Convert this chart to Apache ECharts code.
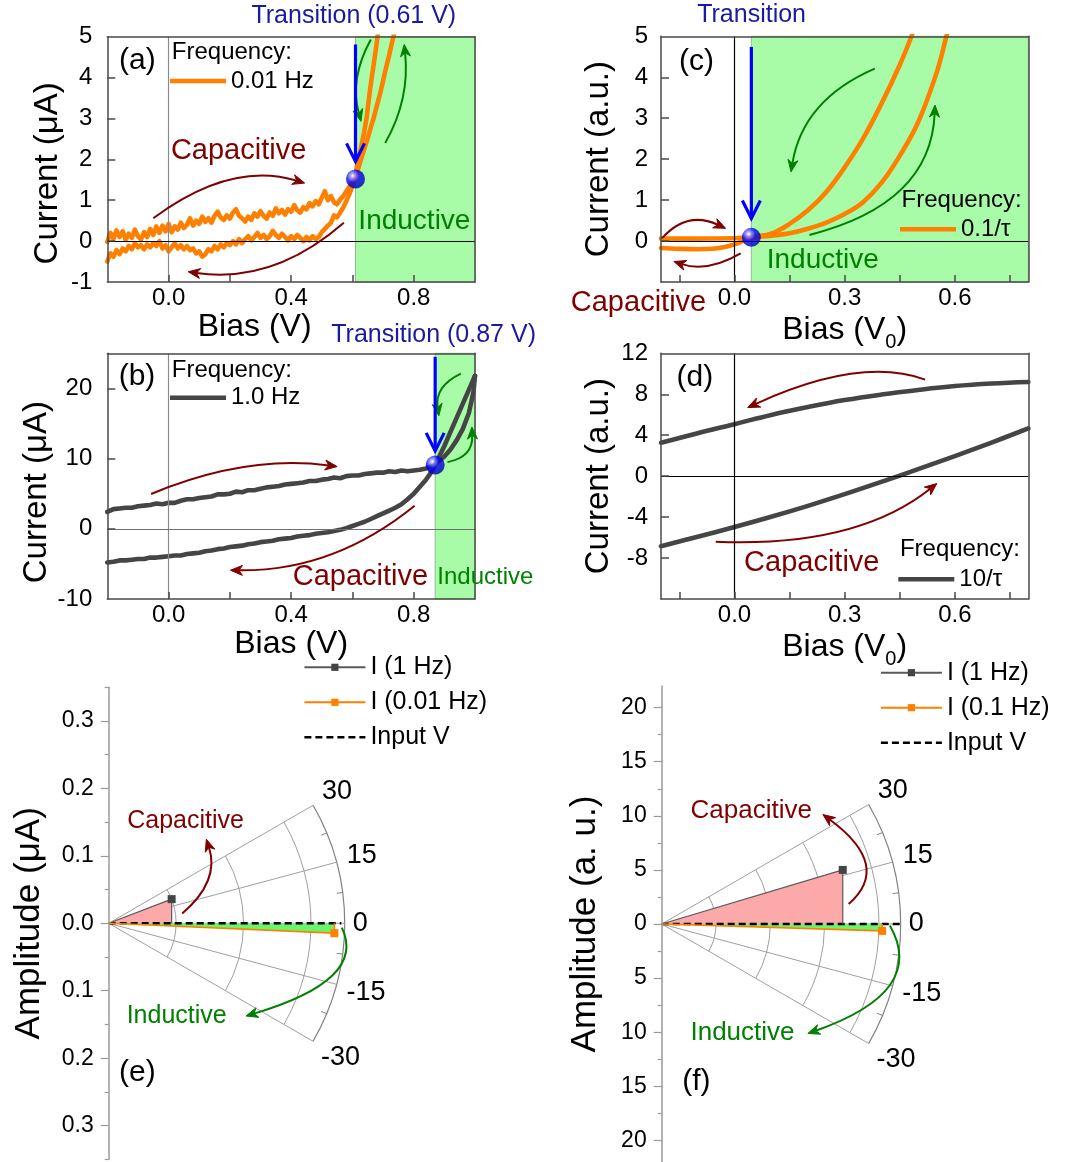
<!DOCTYPE html>
<html><head><meta charset="utf-8">
<script src="https://cdn.jsdelivr.net/npm/echarts@6/dist/echarts.min.js"></script>
<style>html,body{margin:0;padding:0;background:#fff}#c{width:1065px;height:1162px}</style>
</head><body><div id="c"></div>
<script>
// ---------------- data ----------------
// (a) 0.01 Hz measured loop: [bias V, current uA]
const aForward = [[-0.20,-0.02],[-0.19,0.20],[-0.18,0.06],[-0.17,0.26],[-0.16,0.10],[-0.15,0.24],[-0.14,0.03],[-0.13,0.18],[-0.12,0.08],[-0.11,0.28],[-0.10,0.12],[-0.09,0.04],[-0.08,0.22],[-0.07,0.10],[-0.06,0.30],[-0.05,0.15],[-0.04,0.36],[-0.03,0.20],[-0.02,0.38],[-0.01,0.24],[0.00,0.42],[0.01,0.22],[0.02,0.36],[0.03,0.28],[0.04,0.45],[0.05,0.32],[0.06,0.40],[0.07,0.56],[0.08,0.38],[0.09,0.50],[0.10,0.42],[0.11,0.60],[0.12,0.47],[0.13,0.56],[0.14,0.45],[0.15,0.62],[0.16,0.72],[0.17,0.58],[0.18,0.52],[0.19,0.63],[0.20,0.55],[0.21,0.70],[0.22,0.78],[0.23,0.62],[0.24,0.56],[0.25,0.48],[0.26,0.60],[0.27,0.52],[0.28,0.68],[0.29,0.60],[0.30,0.73],[0.31,0.62],[0.32,0.55],[0.33,0.70],[0.34,0.62],[0.35,0.80],[0.36,0.68],[0.37,0.76],[0.38,0.65],[0.39,0.78],[0.40,0.72],[0.41,0.88],[0.42,0.75],[0.43,0.70],[0.44,0.83],[0.45,0.78],[0.46,0.93],[0.47,0.85],[0.48,0.98],[0.49,0.90],[0.50,1.06],[0.51,1.22],[0.52,1.00],[0.53,1.10],[0.54,0.95],[0.55,0.90],[0.56,1.02],[0.57,1.10],[0.58,1.22],[0.59,1.33],[0.60,1.43],[0.61,1.55],[0.62,1.80],[0.63,2.05],[0.64,2.28],[0.65,2.52],[0.66,2.78],[0.67,3.03],[0.68,3.32],[0.69,3.60],[0.70,3.92],[0.71,4.25],[0.72,4.55],[0.73,4.88],[0.74,5.20],[0.75,5.50]];
const aReverse = [[0.69,5.40],[0.682,5.00],[0.675,4.62],[0.668,4.25],[0.663,4.00],[0.656,3.62],[0.650,3.25],[0.646,3.00],[0.638,2.66],[0.630,2.36],[0.624,2.15],[0.618,2.00],[0.613,1.76],[0.61,1.55],[0.60,1.35],[0.59,1.15],[0.58,0.98],[0.57,0.82],[0.56,0.70],[0.55,0.58],[0.54,0.63],[0.53,0.45],[0.52,0.38],[0.51,0.30],[0.50,0.22],[0.49,0.10],[0.48,0.05],[0.47,0.12],[0.46,0.02],[0.45,0.10],[0.44,0.00],[0.43,0.08],[0.42,0.15],[0.41,0.05],[0.40,0.12],[0.39,0.02],[0.38,0.10],[0.37,0.18],[0.36,0.08],[0.35,0.15],[0.34,0.25],[0.33,0.12],[0.32,0.05],[0.31,0.15],[0.30,0.08],[0.29,0.20],[0.28,0.10],[0.27,0.02],[0.26,0.12],[0.25,0.05],[0.24,-0.05],[0.23,0.05],[0.22,-0.08],[0.21,0.00],[0.20,-0.10],[0.19,-0.05],[0.18,-0.15],[0.17,-0.08],[0.16,-0.20],[0.15,-0.12],[0.14,-0.25],[0.13,-0.20],[0.12,-0.32],[0.11,-0.38],[0.10,-0.25],[0.09,-0.30],[0.08,-0.18],[0.07,-0.22],[0.06,-0.12],[0.05,-0.20],[0.04,-0.10],[0.03,-0.18],[0.02,-0.05],[0.01,-0.15],[0.00,-0.25],[-0.01,-0.10],[-0.02,-0.18],[-0.03,0.00],[-0.04,-0.12],[-0.05,-0.05],[-0.06,-0.15],[-0.07,-0.08],[-0.08,-0.20],[-0.09,-0.10],[-0.10,-0.15],[-0.11,-0.05],[-0.12,-0.20],[-0.13,-0.12],[-0.14,-0.25],[-0.15,-0.18],[-0.16,-0.32],[-0.17,-0.22],[-0.18,-0.38],[-0.19,-0.30],[-0.20,-0.50]];
const aTransition = [0.61, 1.52];

// (b) 1.0 Hz measured loop
const bForward = [[-0.20,2.4],[-0.18,2.8],[-0.16,2.9],[-0.14,3.0],[-0.12,3.0],[-0.10,3.2],[-0.08,3.3],[-0.06,3.4],[-0.04,3.6],[-0.02,3.5],[0.00,3.7],[0.02,3.7],[0.04,4.0],[0.06,4.2],[0.08,4.2],[0.10,4.4],[0.12,4.5],[0.14,4.6],[0.16,4.9],[0.18,4.9],[0.20,5.0],[0.22,5.3],[0.24,5.2],[0.26,5.5],[0.28,5.5],[0.30,5.7],[0.32,5.9],[0.34,6.0],[0.36,6.1],[0.38,6.3],[0.40,6.4],[0.42,6.5],[0.44,6.6],[0.46,6.8],[0.48,6.8],[0.50,7.0],[0.52,7.1],[0.54,7.3],[0.56,7.2],[0.58,7.5],[0.60,7.6],[0.62,7.6],[0.64,7.8],[0.66,7.9],[0.68,8.0],[0.70,8.0],[0.72,8.2],[0.74,8.1],[0.76,8.3],[0.78,8.2],[0.80,8.3],[0.82,8.4],[0.84,8.6],[0.86,8.9],[0.87,9.2],[0.88,9.6],[0.90,10.3],[0.92,11.3],[0.94,12.6],[0.96,14.2],[0.98,16.5],[0.995,19.5],[1.0,21.8]];
const bReverse = [[1.0,21.8],[0.98,19.8],[0.96,17.8],[0.94,15.8],[0.92,13.8],[0.90,11.8],[0.88,10.0],[0.87,9.2],[0.86,8.3],[0.85,7.6],[0.84,7.0],[0.83,6.5],[0.82,6.0],[0.80,5.0],[0.78,4.2],[0.76,3.5],[0.74,3.0],[0.72,2.6],[0.70,2.2],[0.68,1.8],[0.66,1.4],[0.64,1.0],[0.62,0.7],[0.60,0.4],[0.58,0.1],[0.56,-0.15],[0.54,-0.3],[0.52,-0.5],[0.50,-0.6],[0.48,-0.7],[0.46,-0.9],[0.44,-1.0],[0.42,-1.1],[0.40,-1.3],[0.38,-1.4],[0.36,-1.5],[0.34,-1.7],[0.32,-1.8],[0.30,-1.9],[0.28,-2.1],[0.26,-2.2],[0.24,-2.4],[0.22,-2.5],[0.20,-2.6],[0.18,-2.8],[0.16,-2.9],[0.14,-3.1],[0.12,-3.2],[0.10,-3.4],[0.08,-3.5],[0.06,-3.6],[0.04,-3.8],[0.02,-3.8],[0.00,-3.9],[-0.02,-4.0],[-0.04,-4.1],[-0.06,-4.1],[-0.08,-4.3],[-0.10,-4.3],[-0.12,-4.4],[-0.14,-4.5],[-0.16,-4.5],[-0.18,-4.7],[-0.20,-4.8]];
const bTransition = [0.87, 9.1];

// (c) simulated 0.1/tau loop: [bias V0, current a.u.]
const cForward = [[-0.2,0.06],[-0.1,0.06],[0,0.07],[0.046,0.09],[0.1,0.13],[0.15,0.19],[0.2,0.3],[0.25,0.45],[0.3,0.66],[0.35,0.95],[0.4,1.42],[0.45,2.08],[0.5,2.9],[0.55,4.1],[0.577,5.0],[0.6,5.8]];
const cReverse = [[0.5,5.5],[0.482,5.0],[0.45,4.3],[0.4,3.35],[0.35,2.5],[0.3,1.8],[0.25,1.2],[0.2,0.75],[0.15,0.42],[0.1,0.18],[0.046,0.09],[0.02,-0.01],[0,-0.08],[-0.03,-0.15],[-0.06,-0.19],[-0.1,-0.2],[-0.15,-0.19],[-0.2,-0.17]];
const cTransition = [0.046, 0.09];

// (d) simulated 10/tau loop
const dReverse = [[-0.2,3.26],[-0.1,4.2],[0,5.08],[0.1,5.98],[0.2,6.75],[0.3,7.43],[0.4,7.97],[0.5,8.42],[0.6,8.8],[0.7,9.05],[0.8,9.2]];
const dForward = [[-0.2,-6.84],[-0.1,-5.92],[0,-4.97],[0.1,-3.97],[0.2,-2.9],[0.3,-1.76],[0.4,-0.56],[0.5,0.68],[0.6,1.96],[0.7,3.28],[0.8,4.66]];

// tick values
const xTicksAB = [0, 0.2, 0.4, 0.6, 0.8];
const xLabelsAB = [0, 0.4, 0.8];
const xTicksCD = [-0.15, 0, 0.15, 0.3, 0.45, 0.6, 0.75];
const xLabelsCD = [0, 0.3, 0.6];
const yLabelsA = [-1, 0, 1, 2, 3, 4, 5];
const yLabelsB = [-10, 0, 10, 20];
const yLabelsC = [0, 1, 2, 3, 4, 5];
const yLabelsD = [-8, -4, 0, 4, 8, 12];

// (e),(f) phasors: [amplitude, phase in degrees]
const eAmpMajor = [-0.3, -0.2, -0.1, 0, 0.1, 0.2, 0.3];
const eAmpMinor = [-0.35, -0.25, -0.15, -0.05, 0.05, 0.15, 0.25, 0.35];
const fAmpMajor = [-20, -15, -10, -5, 0, 5, 10, 15, 20];
const fAmpMinor = [-17.5, -12.5, -7.5, -2.5, 2.5, 7.5, 12.5, 17.5];
const eRings = [0.1, 0.2, 0.3];
const fRings = [5, 10, 15, 20];
const eOuter = 0.35, fOuter = 22;
const phaseTicks = [-30, -15, 0, 15, 30];
const phaseMinor = [-22.5, -7.5, 7.5, 22.5];
const ePhasor1Hz = [0.10, 21];
const ePhasorLow = [0.335, -2.5];
const eInputV = 0.345;
const fPhasor1Hz = [17.4, 16.7];
const fPhasorLow = [20.3, -1.8];
const fInputV = 22;

// ---------------- styles ----------------
const FONT = '"Liberation Sans", Arial, Helvetica, sans-serif';
const ORANGE = '#ff8000', DARK = '#454545', RED = '#800000', GREEN = '#008000',
      BLUE = '#0000ff', NAVY = '#1a1aa0', GREENFILL = '#a8fca8', FRAME = '#4a4a4a';
const CURVE_W = 4.6;

const grids = [
  {left: 107.3, top: 36.7, width: 367.7, height: 245.3},
  {left: 107.3, top: 353.3, width: 367.7, height: 245.7},
  {left: 661, top: 36.3, width: 367.3, height: 245.7},
  {left: 661, top: 353.3, width: 367.3, height: 245.7},
  {left: 108.7, top: 687.3, width: 300, height: 472},
  {left: 661.7, top: 686, width: 300, height: 478}
];
const eXMax = grids[4].width * (2 * eOuter) / grids[4].height;
const fXMax = grids[5].width * (2 * fOuter) / grids[5].height;

function fmt1(v) { return (Math.round(v * 10) / 10).toFixed(1); }

function bottomX(gi, min, max, ticks, labels, name, gap, pad, rich) {
  return {
    type: 'value', gridIndex: gi, position: 'bottom', min, max, z: 10,
    axisLine: {show: true, onZero: false, lineStyle: {color: FRAME, width: 1.5}},
    axisTick: {show: true, inside: true, length: 7, customValues: ticks, lineStyle: {color: FRAME, width: 1.5}},
    axisLabel: {customValues: labels, formatter: fmt1, margin: 4, fontSize: 24, fontFamily: FONT, color: '#000'},
    splitLine: {show: false},
    name, nameLocation: 'middle', nameGap: gap,
    nameTextStyle: {fontSize: 32, fontFamily: FONT, color: '#000', padding: pad, rich: rich}
  };
}
function topX(gi, min, max) {
  return {type: 'value', gridIndex: gi, position: 'top', min, max, z: 10,
    axisLine: {show: true, onZero: false, lineStyle: {color: FRAME, width: 1.5}},
    axisTick: {show: false}, axisLabel: {show: false}, splitLine: {show: false}};
}
function leftY(gi, min, max, ticks, labels, name, gap, pad, margin) {
  return {
    type: 'value', gridIndex: gi, position: 'left', min, max, z: 10,
    axisLine: {show: true, onZero: false, lineStyle: {color: FRAME, width: 1.5}},
    axisTick: {show: true, inside: true, length: 8, customValues: ticks, lineStyle: {color: FRAME, width: 1.5}},
    axisLabel: {customValues: labels, formatter: v => String(v), margin: margin, fontSize: 24, fontFamily: FONT, color: '#000'},
    splitLine: {show: false},
    name, nameLocation: 'middle', nameGap: gap,
    nameTextStyle: {fontSize: 33, fontFamily: FONT, color: '#000', padding: pad}
  };
}
function rightY(gi, min, max) {
  return {type: 'value', gridIndex: gi, position: 'right', min, max, z: 10,
    axisLine: {show: true, onZero: false, lineStyle: {color: FRAME, width: 1.5}},
    axisTick: {show: false}, axisLabel: {show: false}, splitLine: {show: false}};
}
function polarY(gi, R, major, name, gap, fmt) {
  return {
    type: 'value', gridIndex: gi, position: 'left', min: -R, max: R, z: 10,
    axisLine: {show: true, onZero: false, lineStyle: {color: '#9a9a9a', width: 1.5}},
    axisTick: {show: true, inside: false, length: 8, customValues: major, lineStyle: {color: '#9a9a9a', width: 1.2}},
    axisLabel: {customValues: major, formatter: fmt, margin: 15, fontSize: 23, fontFamily: FONT, color: '#000'},
    splitLine: {show: false},
    name, nameLocation: 'middle', nameGap: gap,
    nameTextStyle: {fontSize: 35, fontFamily: FONT, color: '#000'}
  };
}
function polarYMinor(gi, R, minor) {
  return {
    type: 'value', gridIndex: gi, position: 'left', min: -R, max: R, z: 10,
    axisLine: {show: false},
    axisTick: {show: true, inside: false, length: 4, customValues: minor, lineStyle: {color: '#9a9a9a', width: 1.2}},
    axisLabel: {show: false}, splitLine: {show: false}
  };
}
const subRich = {s: {fontSize: 20, fontFamily: FONT, color: '#000', padding: [24, 0, 0, 0]}};

const xAxis = [
  bottomX(0, -0.2, 1.0, xTicksAB, xLabelsAB, 'Bias (V)', 26, [0, 73, 0, 0]), topX(0, -0.2, 1.0),
  bottomX(1, -0.2, 1.0, xTicksAB, xLabelsAB, 'Bias (V)', 25, 0), topX(1, -0.2, 1.0),
  bottomX(2, -0.2, 0.8, xTicksCD, xLabelsCD, 'Bias (V{s|0})', 26, 0, subRich), topX(2, -0.2, 0.8),
  bottomX(3, -0.2, 0.8, xTicksCD, xLabelsCD, 'Bias (V{s|0})', 26, 0, subRich), topX(3, -0.2, 0.8),
  {type: 'value', gridIndex: 4, min: 0, max: eXMax, show: false},
  {type: 'value', gridIndex: 5, min: 0, max: fXMax, show: false}
];
const yAxis = [
  leftY(0, -1, 5, [0, 1, 2, 3, 4], yLabelsA, 'Current (\u03bcA)', 43, [0, 28, 0, 0], 15), rightY(0, -1, 5),
  leftY(1, -10, 25, [0, 10, 20], yLabelsB, 'Current (\u03bcA)', 43, [0, 32, 0, 0], 15), rightY(1, -10, 25),
  leftY(2, -1, 5, [0, 1, 2, 3, 4], yLabelsC, 'Current (a.u.)', 46, 0, 13), rightY(2, -1, 5),
  leftY(3, -12, 12, [-8, -4, 0, 4, 8], yLabelsD, 'Current (a.u.)', 46, 0, 13), rightY(3, -12, 12),
  polarY(4, eOuter, eAmpMajor, 'Amplitude (\u03bcA)', 62, v => Math.abs(v).toFixed(1)), polarYMinor(4, eOuter, eAmpMinor),
  polarY(5, fOuter, fAmpMajor, 'Amplitude (a. u.)', 59, v => String(Math.abs(Math.round(v)))), polarYMinor(5, fOuter, fAmpMinor)
];

const dotColor = {type: 'radial', x: 0.36, y: 0.33, r: 0.68, colorStops: [
  {offset: 0, color: '#ffffff'}, {offset: 0.2, color: '#8c8cff'}, {offset: 0.5, color: '#0000ff'}, {offset: 1, color: '#0000a8'}]};

function regionSeries(xi, yi, x0, x1) {
  return {type: 'line', xAxisIndex: xi, yAxisIndex: yi, data: [[x0, 0]], symbol: 'none', silent: true, z: 1,
    lineStyle: {width: 0}, legendHoverLink: false,
    markArea: {silent: true, itemStyle: {color: GREENFILL, borderColor: '#8fbf8f', borderWidth: 1},
      data: [[{xAxis: x0}, {xAxis: x1}]]}};
}
function zeroSeries(xi, yi, vColor, hColor) {
  return {type: 'line', xAxisIndex: xi, yAxisIndex: yi, data: [[0, 0]], symbol: 'none', silent: true, z: 3,
    lineStyle: {width: 0},
    markLine: {silent: true, symbol: 'none', label: {show: false}, animation: false,
      data: [{xAxis: 0, lineStyle: {color: vColor, width: 1.2, type: 'solid'}},
             {yAxis: 0, lineStyle: {color: hColor, width: 1.2, type: 'solid'}}]}};
}
function curve(xi, yi, name, data, color, smooth) {
  return {type: 'line', name, xAxisIndex: xi, yAxisIndex: yi, data, symbol: 'none', smooth: smooth ? 0.4 : false,
    clip: true, z: 2, lineStyle: {color, width: CURVE_W, join: 'round', cap: 'round'}, itemStyle: {color}};
}
function dot(xi, yi, p) {
  return {type: 'scatter', xAxisIndex: xi, yAxisIndex: yi, data: [p], symbolSize: 19, z: 8,
    itemStyle: {color: dotColor}, silent: true};
}
function toXY(ph) { const t = ph[1] * Math.PI / 180; return [ph[0] * Math.cos(t), ph[0] * Math.sin(t)]; }
function triangle(xi, yi, ph, color) {
  const p = toXY(ph);
  return {type: 'line', xAxisIndex: xi, yAxisIndex: yi, data: [[0, 0], p, [p[0], 0]], symbol: 'none', silent: true,
    z: 2, lineStyle: {width: 0}, areaStyle: {color, opacity: 1}};
}
function phasor(xi, yi, name, ph, lineColor, markColor, width) {
  const p = toXY(ph);
  return {type: 'line', name, xAxisIndex: xi, yAxisIndex: yi, z: 5, symbol: 'rect', symbolSize: 8, showSymbol: true,
    data: [{value: [0, 0], symbol: 'none'}, {value: p}, {value: [p[0], 0], symbol: 'none'}],
    lineStyle: {color: lineColor, width}, itemStyle: {color: markColor}};
}
function inputV(xi, yi, amp) {
  return {type: 'line', name: 'Input V', xAxisIndex: xi, yAxisIndex: yi, z: 4, symbol: 'none',
    data: [[0, 0], [amp, 0]], lineStyle: {color: '#000', width: 2.6, type: [7, 4]}, itemStyle: {color: '#000'}};
}
function textW(s, fs) {
  let w = 0; for (const ch of s) w += (ch === '-' ? 0.333 : 0.556); return w * fs;
}
function polarGrid(xi, yi, rings, outer) {
  return {type: 'custom', xAxisIndex: xi, yAxisIndex: yi, data: [[0, 0]], z: 1, silent: true, clip: false,
    renderItem: function (params, api) {
      const o = api.coord([0, 0]);
      const k = api.coord([1, 0])[0] - o[0];
      const R = outer * k;
      const a0 = -Math.max(...phaseTicks) * Math.PI / 180, a1 = -Math.min(...phaseTicks) * Math.PI / 180;
      const st = {stroke: '#a0a0a0', fill: null, lineWidth: 1};
      const ch = [];
      rings.forEach(r => ch.push({type: 'arc', shape: {cx: o[0], cy: o[1], r: r * k, startAngle: a0, endAngle: a1, clockwise: true}, style: st}));
      ch.push({type: 'arc', shape: {cx: o[0], cy: o[1], r: R, startAngle: a0, endAngle: a1, clockwise: true}, style: {stroke: '#808080', fill: null, lineWidth: 1.2}});
      phaseTicks.forEach(d => {
        const t = d * Math.PI / 180, c = Math.cos(t), s = Math.sin(t);
        ch.push({type: 'line', shape: {x1: o[0], y1: o[1], x2: o[0] + R * c, y2: o[1] - R * s}, style: st});
        const lab = String(d), fs = 27;
        const dd = 8 + textW(lab, fs) / 2 * Math.abs(c) + fs / 2 * Math.abs(s);
        ch.push({type: 'text', style: {text: lab, x: o[0] + (R + dd) * c, y: o[1] - (R + dd) * s,
          align: 'center', verticalAlign: 'middle', fontSize: fs, fontFamily: FONT, fill: '#000'}});
      });
      phaseMinor.forEach(d => {
        const t = d * Math.PI / 180, c = Math.cos(t), s = Math.sin(t);
        ch.push({type: 'line', shape: {x1: o[0] + (R - 6) * c, y1: o[1] - (R - 6) * s, x2: o[0] + R * c, y2: o[1] - R * s}, style: {stroke: '#808080', lineWidth: 1}});
      });
      return {type: 'group', children: ch};
    }};
}

const series = [
  // (a)
  regionSeries(0, 0, aTransition[0], 1.0),
  curve(0, 0, '0.01 Hz', aForward, ORANGE),
  curve(0, 0, '0.01 Hz', aReverse, ORANGE),
  zeroSeries(0, 0, '#8a8a8a', '#000'),
  dot(0, 0, aTransition),
  // (b)
  regionSeries(2, 2, bTransition[0], 1.0),
  curve(2, 2, '1.0 Hz', bForward, DARK),
  curve(2, 2, '1.0 Hz', bReverse, DARK),
  zeroSeries(2, 2, '#8a8a8a', '#707070'),
  dot(2, 2, bTransition),
  // (c)
  regionSeries(4, 4, cTransition[0], 0.8),
  curve(4, 4, '0.1/\u03c4', cForward, ORANGE, true),
  curve(4, 4, '0.1/\u03c4', cReverse, ORANGE, true),
  zeroSeries(4, 4, '#000', '#000'),
  dot(4, 4, cTransition),
  // (d)
  curve(6, 6, '10/\u03c4', dForward, DARK, true),
  curve(6, 6, '10/\u03c4', dReverse, DARK, true),
  zeroSeries(6, 6, '#000', '#000'),
  // (e)
  polarGrid(8, 8, eRings, eOuter),
  triangle(8, 8, ePhasor1Hz, '#fba9a9'),
  triangle(8, 8, ePhasorLow, '#6cf56c'),
  inputV(8, 8, eInputV),
  phasor(8, 8, 'I (1 Hz)', ePhasor1Hz, '#5a5a5a', '#444', 1.2),
  phasor(8, 8, 'I (0.01 Hz)', ePhasorLow, ORANGE, ORANGE, 1.6),
  // (f)
  polarGrid(9, 10, fRings, fOuter),
  triangle(9, 10, fPhasor1Hz, '#fba9a9'),
  triangle(9, 10, fPhasorLow, '#6cf56c'),
  inputV(9, 10, fInputV),
  phasor(9, 10, 'I (1 Hz)', fPhasor1Hz, '#5a5a5a', '#444', 1.2),
  phasor(9, 10, 'I (0.1 Hz)', fPhasorLow, ORANGE, ORANGE, 1.6)
];

// dashed legend icon for "Input V" (61 x 9 box, dashes 7 on / 4 off)
let dashIcon = 'path://M0 0h0.01v0.01h-0.01z M0 8.99h0.01v0.01h-0.01z';
for (let x = 0; x < 61; x += 11) { const w = Math.min(7, 61 - x); dashIcon += ` M${x} 3.2h${w}v2.6h-${w}z`; }

function panelLegend(left, cy, name) {
  return {left, top: cy - 12, padding: 0, itemWidth: 56, itemHeight: 4.6, itemGap: 0, selectedMode: false,
    icon: 'rect', data: [name], textStyle: {fontSize: 24, fontFamily: FONT, color: '#000', lineHeight: 24}};
}
function polarLegend(left, cy, names) {
  return {left, top: cy - 17.5, orient: 'vertical', padding: 0, itemWidth: 61, itemHeight: 9, itemGap: 0,
    selectedMode: false, symbolKeepAspect: true,
    data: names.map(n => n === 'Input V' ? {name: n, icon: dashIcon} : n),
    textStyle: {fontSize: 25, fontFamily: FONT, color: '#000', lineHeight: 35}};
}

const option = {
  animation: false,
  backgroundColor: '#fff',
  grid: grids.map(g => Object.assign({containLabel: false, show: false}, g)),
  xAxis, yAxis, series,
  legend: [
    panelLegend(170, 81, '0.01 Hz'),
    panelLegend(170, 397.7, '1.0 Hz'),
    panelLegend(900, 229.3, '0.1/\u03c4'),
    panelLegend(898.3, 579.3, '10/\u03c4'),
    polarLegend(303.4, 667.3, ['I (1 Hz)', 'I (0.01 Hz)', 'Input V']),
    polarLegend(879.9, 672.7, ['I (1 Hz)', 'I (0.1 Hz)', 'Input V'])
  ]
};

const chart = echarts.init(document.getElementById('c'), null, {renderer: 'canvas'});
chart.setOption(option);

// ---------------- annotations ----------------
const axesOf = [[0, 0], [2, 2], [4, 4], [6, 6], [8, 8], [9, 10]];
function P(panel, p) { return chart.convertToPixel({xAxisIndex: axesOf[panel][0], yAxisIndex: axesOf[panel][1]}, p); }

const arrows = [
  [0, [[-0.05, 0.56], [0.2, 1.48], [0.444, 1.42]], RED],
  [0, [[0.572, 0.45], [0.33, -0.6], [0.064, -0.75]], RED],
  [0, [[0.66, 4.93], [0.617, 3.95], [0.628, 2.93]], GREEN],
  [0, [[0.707, 2.4], [0.763, 3.54], [0.769, 4.81]], GREEN],
  [1, [[-0.057, 4.96], [0.25, 8.75], [0.55, 8.86]], RED],
  [1, [[0.803, 3.29], [0.52, -3.7], [0.202, -5.9]], RED],
  [1, [[0.954, 22.1], [0.893, 19.7], [0.882, 16.1]], GREEN],
  [1, [[0.91, 9.5], [0.972, 11.1], [0.99, 14.5]], GREEN],
  [2, [[-0.197, 0.07], [-0.12, 0.47], [-0.024, 0.31]], RED],
  [2, [[0.017, -0.3], [-0.074, -0.585], [-0.165, -0.5]], RED],
  [2, [[0.382, 4.21], [0.227, 3.2], [0.154, 1.69]], GREEN],
  [2, [[0.204, 0.15], [0.455, 1.32], [0.546, 3.32]], GREEN],
  [3, [[0.519, 9.43], [0.31, 9.9], [0.036, 6.7]], RED],
  [3, [[-0.051, -6.41], [0.291, -5.27], [0.551, -0.72]], RED],
  [4, [[0.109, 0.0144], [0.146, 0.066], [0.1448, 0.1246]], RED],
  [4, [[0.3457, -0.0064], [0.329, -0.078], [0.2036, -0.1375]], GREEN],
  [5, [[17.21, 1.84], [18.63, 5.68], [14.84, 10.12]], RED],
  [5, [[21.0, -0.15], [20.85, -5.68], [13.45, -10.12]], GREEN]
];
const blueArrows = [
  [0, aTransition[0], 4.81, 1.95],
  [1, bTransition[0], 24.5, 11.1],
  [2, cTransition[0], 4.74, 0.55]
];
const labels = [
  ['Transition (0.61 V)', 353.8, 16, 25, NAVY, 'center'],
  ['(a)', 137.4, 61, 30, '#000', 'center'],
  ['Frequency:', 171.8, 52.7, 24, '#000', 'left'],
  ['Capacitive', 238.6, 150.7, 29, RED, 'center'],
  ['Inductive', 414.4, 221.7, 28, GREEN, 'center'],
  ['Transition (0.87 V)', 433.6, 335, 25, NAVY, 'center'],
  ['(b)', 137, 377, 30, '#000', 'center'],
  ['Frequency:', 171.8, 370, 24, '#000', 'left'],
  ['Capacitive', 360.4, 577.3, 29, RED, 'center'],
  ['Inductive', 485.3, 577, 24, GREEN, 'center'],
  ['Transition', 751.6, 15, 25, NAVY, 'center'],
  ['(c)', 696.4, 61.7, 30, '#000', 'center'],
  ['Frequency:', 901.6, 200, 24, '#000', 'left'],
  ['Capacitive', 638.5, 303.3, 29, RED, 'center'],
  ['Inductive', 822.8, 260, 28, GREEN, 'center'],
  ['(d)', 694.8, 377.3, 30, '#000', 'center'],
  ['Frequency:', 899.9, 549.3, 24, '#000', 'left'],
  ['Capacitive', 811.8, 563.3, 29, RED, 'center'],
  ['(e)', 137.4, 1073, 30, '#000', 'center'],
  ['Capacitive', 185.6, 820.7, 25, RED, 'center'],
  ['Inductive', 176.7, 1016, 25, GREEN, 'center'],
  ['(f)', 696.4, 1081.7, 30, '#000', 'center'],
  ['Capacitive', 751.2, 811, 26, RED, 'center'],
  ['Inductive', 742.5, 1032.7, 26, GREEN, 'center']
];

const els = [];
arrows.forEach(([pn, pts, color]) => {
  const [S, M, E] = pts.map(p => P(pn, p));
  const C = [2 * M[0] - (S[0] + E[0]) / 2, 2 * M[1] - (S[1] + E[1]) / 2];
  const dx = E[0] - C[0], dy = E[1] - C[1], L = Math.hypot(dx, dy) || 1;
  const ux = dx / L, uy = dy / L, nx = -uy, ny = ux;
  const hl = 12, hw = 5;
  const B = [E[0] - ux * hl, E[1] - uy * hl];
  const I = [E[0] - ux * hl * 0.7, E[1] - uy * hl * 0.7];
  els.push({type: 'bezierCurve', z: 100, silent: true,
    shape: {x1: S[0], y1: S[1], x2: I[0], y2: I[1], cpx1: C[0], cpy1: C[1]},
    style: {stroke: color, lineWidth: 2, fill: null}});
  els.push({type: 'polygon', z: 100, silent: true,
    shape: {points: [E, [B[0] + nx * hw, B[1] + ny * hw], I, [B[0] - nx * hw, B[1] - ny * hw]]},
    style: {fill: color, stroke: color, lineWidth: 1}});
});
blueArrows.forEach(([pn, x, y0, y1]) => {
  const A = P(pn, [x, y0]), T = P(pn, [x, y1]);
  els.push({type: 'line', z: 100, silent: true, shape: {x1: A[0], y1: A[1], x2: T[0], y2: T[1]},
    style: {stroke: BLUE, lineWidth: 3.2}});
  els.push({type: 'polyline', z: 100, silent: true,
    shape: {points: [[T[0] - 9, T[1] - 18], T, [T[0] + 9, T[1] - 18]]},
    style: {stroke: BLUE, lineWidth: 3.2, fill: null}});
});
labels.forEach(([t, x, y, fs, color, al]) => {
  els.push({type: 'text', z: 100, silent: true, x: x, y: y,
    style: {text: t, fontSize: fs, fontFamily: FONT, fill: color, align: al, textAlign: al,
      verticalAlign: 'middle', textVerticalAlign: 'middle'}});
});
chart.setOption({graphic: {elements: els}});
</script>
</body></html>
